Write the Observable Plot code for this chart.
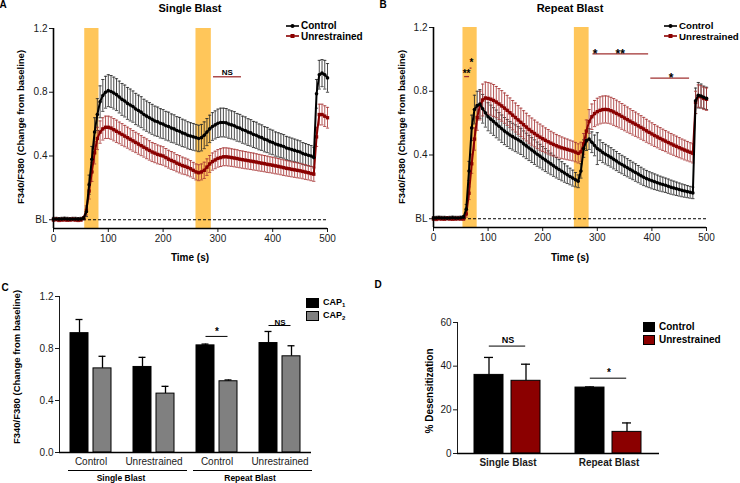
<!DOCTYPE html>
<html><head><meta charset="utf-8">
<script src="https://cdn.jsdelivr.net/npm/d3@7"></script>
<script src="https://cdn.jsdelivr.net/npm/@observablehq/plot@0.6"></script>
<style>
html,body{margin:0;padding:0;background:#fff;}
#fig{position:relative;width:740px;height:483px;overflow:hidden;font-family:"Liberation Sans",Arial,sans-serif;color:#000;background:#fff;}
#fig > svg{position:absolute;}
.t{position:absolute;white-space:nowrap;line-height:1;}
#panelD [aria-label^="fx-axis"] text{font-weight:bold;}
</style></head><body><div id="fig"></div>
<script>
// ---------------- DATA ----------------
const time = [0,5,10,15,20,25,30,35,40,45,50,55,60,65,70,75,80,85,90,95,100,105,110,115,120,125,130,135,140,145,150,155,160,165,170,175,180,185,190,195,200,205,210,215,220,225,230,235,240,245,250,255,260,265,270,275,280,285,290,295,300,305,310,315,320,325,330,335,340,345,350,355,360,365,370,375,380,385,390,395,400,405,410,415,420,425,430,435,440,445,450,455,460,465,470,475,480,485,490,495,500];

// Panel A (Single Blast)
const singleControl = [0.005,0.005,0.004,0.005,0.006,0.005,0.004,0.005,0.005,0.004,0.005,
 0.01,0.05,0.22,0.38,0.55,0.66,0.74,0.78,0.80,0.81,
 0.805,0.795,0.785,0.77,0.755,0.745,0.73,0.72,0.71,0.695,0.685,0.675,
 0.66,0.65,0.64,0.63,0.62,0.615,0.605,0.60,0.59,0.585,0.575,0.57,0.56,0.555,0.545,0.54,0.53,0.525,0.52,0.515,
 0.51,
 0.515,0.53,0.55,0.57,0.585,0.595,0.605,0.61,0.61,
 0.608,0.60,0.595,0.59,0.58,0.575,0.565,0.56,0.55,0.545,0.535,0.53,0.52,0.515,0.505,0.50,0.49,0.485,0.475,0.47,0.465,0.46,0.45,0.445,0.44,0.435,0.43,0.425,0.415,0.41,0.405,0.40,0.39,
 0.79,0.91,0.92,0.91,0.89];
const singleControlSem = [0.01,0.01,0.01,0.01,0.01,0.01,0.01,0.01,0.01,0.01,0.01,
 0.01,0.03,0.06,0.08,0.09,0.1,0.1,0.1,0.1,0.1,
 0.1,0.1,0.1,0.1,0.1,0.1,0.1,0.1,0.098,0.098,0.097,0.097,
 0.096,0.095,0.095,0.094,0.093,0.092,0.092,0.091,0.09,0.09,0.089,0.088,0.087,0.087,0.086,0.085,0.085,0.084,0.084,0.083,
 0.083,
 0.083,0.084,0.085,0.086,0.087,0.088,0.089,0.09,0.09,
 0.09,0.089,0.088,0.088,0.087,0.086,0.085,0.085,0.084,0.083,0.082,0.082,0.081,0.08,0.079,0.079,0.078,0.077,0.076,0.076,0.075,0.074,0.073,0.073,0.072,0.071,0.07,0.07,0.069,0.068,0.067,0.066,0.065,
 0.09,0.09,0.085,0.09,0.09];
const singleUnrestrained = [0.0,0.002,-0.002,0.0,0.001,-0.001,0.0,0.002,0.0,-0.002,0.0,
 0.01,0.06,0.18,0.30,0.42,0.51,0.55,0.57,0.58,0.58,
 0.575,0.565,0.555,0.545,0.535,0.525,0.515,0.505,0.495,0.485,0.475,0.465,
 0.455,0.445,0.435,0.425,0.418,0.41,0.405,0.40,0.39,0.38,0.372,0.365,0.355,0.348,0.34,0.335,0.328,0.32,0.31,0.30,
 0.295,
 0.30,0.31,0.33,0.35,0.365,0.375,0.385,0.39,0.395,
 0.395,0.393,0.39,0.387,0.384,0.38,0.377,0.374,0.371,0.368,0.365,0.362,0.358,0.355,0.352,0.348,0.345,0.342,0.338,0.335,0.331,0.327,0.323,0.32,0.316,0.313,0.31,0.307,0.303,0.299,0.295,0.29,0.286,
 0.52,0.66,0.66,0.65,0.64];
const singleUnrestrainedSem = [0.01,0.01,0.01,0.01,0.01,0.01,0.01,0.01,0.01,0.01,0.01,
 0.01,0.03,0.05,0.06,0.07,0.07,0.07,0.07,0.07,0.07,
 0.07,0.07,0.07,0.068,0.068,0.067,0.066,0.066,0.065,0.064,0.064,0.063,
 0.062,0.062,0.061,0.06,0.06,0.059,0.058,0.058,0.057,0.056,0.056,0.055,0.054,0.054,0.053,0.052,0.052,0.051,0.05,0.05,
 0.05,
 0.05,0.051,0.052,0.053,0.054,0.055,0.055,0.056,0.056,
 0.056,0.056,0.055,0.055,0.055,0.054,0.054,0.054,0.053,0.053,0.053,0.052,0.052,0.051,0.051,0.051,0.05,0.05,0.05,0.049,0.049,0.049,0.048,0.048,0.047,0.047,0.047,0.046,0.046,0.046,0.045,0.045,0.045,
 0.06,0.065,0.065,0.065,0.065];

// Panel B (Repeat Blast)
const repeatControl = [0.004,0.005,0.006,0.005,0.005,0.004,0.005,0.006,0.005,0.005,0.006,
 0.01,0.06,0.30,0.57,0.685,0.71,0.72,0.69,0.665,0.64,
 0.625,0.61,0.595,0.58,0.565,0.55,0.538,0.525,0.515,0.505,0.495,0.485,
 0.47,0.457,0.444,0.431,0.418,0.405,0.393,0.38,0.368,0.356,0.344,0.332,0.32,0.309,0.298,0.287,0.276,0.265,0.255,0.245,
 0.235,
 0.30,0.44,0.49,0.50,0.48,0.46,0.44,0.43,0.415,
 0.405,0.395,0.385,0.373,0.362,0.35,0.34,0.33,0.32,0.31,0.30,0.29,0.28,0.27,0.26,0.252,0.245,0.238,0.232,0.226,0.22,0.215,0.21,0.204,0.198,0.193,0.188,0.183,0.178,0.174,0.17,0.166,0.162,
 0.74,0.775,0.77,0.762,0.755];
const repeatControlSem = [0.01,0.01,0.01,0.01,0.01,0.01,0.01,0.01,0.01,0.01,0.01,
 0.01,0.03,0.06,0.08,0.09,0.09,0.09,0.09,0.09,0.088,
 0.088,0.087,0.087,0.086,0.086,0.085,0.085,0.085,0.084,0.084,0.083,0.082,
 0.081,0.08,0.079,0.078,0.077,0.076,0.074,0.073,0.072,0.07,0.068,0.066,0.064,0.062,0.06,0.058,0.055,0.052,0.05,0.045,
 0.04,
 0.045,0.055,0.062,0.065,0.065,0.065,0.1,0.064,0.063,
 0.062,0.062,0.061,0.06,0.06,0.059,0.058,0.058,0.057,0.056,0.055,0.055,0.054,0.053,0.052,0.051,0.05,0.05,0.049,0.048,0.047,0.046,0.045,0.045,0.044,0.043,0.042,0.041,0.04,0.039,0.038,0.037,0.036,
 0.08,0.08,0.075,0.07,0.07];
const repeatUnrestrained = [0.0,-0.002,0.001,0.0,-0.001,0.002,0.0,-0.001,0.0,0.001,0.0,
 0.0,0.03,0.16,0.345,0.50,0.635,0.71,0.745,0.758,0.755,
 0.75,0.742,0.732,0.72,0.708,0.694,0.68,0.665,0.65,0.635,0.62,0.605,
 0.59,0.575,0.56,0.547,0.535,0.523,0.512,0.502,0.492,0.483,0.474,0.466,0.458,0.451,0.445,0.44,0.435,0.43,0.425,0.418,
 0.41,
 0.42,0.47,0.55,0.61,0.64,0.66,0.672,0.68,0.685,
 0.686,0.684,0.678,0.67,0.661,0.652,0.642,0.632,0.622,0.612,0.602,0.593,0.583,0.573,0.563,0.552,0.542,0.532,0.522,0.513,0.504,0.495,0.487,0.478,0.47,0.462,0.454,0.446,0.438,0.431,0.424,0.417,0.41,
 0.73,0.77,0.765,0.755,0.75];
const repeatUnrestrainedSem = [0.01,0.01,0.01,0.01,0.01,0.01,0.01,0.01,0.01,0.01,0.01,
 0.01,0.02,0.04,0.06,0.07,0.08,0.09,0.1,0.1,0.1,
 0.1,0.1,0.098,0.097,0.096,0.095,0.094,0.093,0.092,0.091,0.09,0.089,
 0.088,0.087,0.086,0.085,0.084,0.083,0.082,0.08,0.078,0.077,0.075,0.073,0.071,0.07,0.068,0.066,0.065,0.063,0.062,0.061,
 0.06,
 0.06,0.065,0.07,0.075,0.08,0.082,0.084,0.085,0.085,
 0.085,0.085,0.084,0.084,0.083,0.082,0.081,0.08,0.079,0.078,0.077,0.076,0.075,0.074,0.073,0.072,0.071,0.07,0.069,0.068,0.068,0.067,0.066,0.066,0.065,0.064,0.064,0.063,0.062,0.062,0.061,0.06,0.06,
 0.07,0.07,0.07,0.07,0.07];

// stimulus (CAP) windows, seconds
const bandsSingle = [{start: 57, end: 83}, {start: 260, end: 288}];
const bandsRepeat = [{start: 54, end: 80}, {start: 258, end: 285}];

// significance annotations for time courses
const sigLinesSingle = [{x1: 292, x2: 343, y: 0.897}];
const sigTextSingle = [{x: 317, y: 0.925, label: "NS"}];
const sigLinesRepeat = [{x1: 57, x2: 66, y: 0.892}, {x1: 67, x2: 70.5, y: 0.945}, {x1: 292, x2: 394, y: 1.035}, {x1: 398, x2: 469, y: 0.882}];
const sigStarsSmall = [{x: 60.5, y: 0.925, label: "**"}, {x: 69.5, y: 0.99, label: "*"}];
const sigStarsRepeat = [{x: 296, y: 1.05, label: "*"}, {x: 342, y: 1.05, label: "**"}, {x: 435, y: 0.903, label: "*"}];

// tick labels
const xTicks = [0, 100, 200, 300, 400, 500];
const xTickLabels = ["0", "100", "200", "300", "400", "500"];
const yTicks = [0, 0.4, 0.8, 1.2];
const yTickLabels = ["BL", "0.4", "0.8", "1.2"];

// Panel C
const cGroups = ["Single|Control", "Single|Unrestrained", "Repeat|Control", "Repeat|Unrestrained"];
const cGroupLabels = ["Control", "Unrestrained", "Control", "Unrestrained"];
const caps = ["CAP1", "CAP2"];
const cap1Mean = [0.918, 0.658, 0.824, 0.842];
const cap1Err  = [0.105, 0.074, 0.010, 0.089];
const cap2Mean = [0.647, 0.453, 0.548, 0.740];
const cap2Err  = [0.093, 0.056, 0.010, 0.081];
const cYTicks = [0, 0.4, 0.8, 1.2];
const cYTickLabels = ["0.0", "0.4", "0.8", "1.2"];
const sigC = [{g: "Repeat|Control", y: 0.893, ty: 0.925, label: "*"}, {g: "Repeat|Unrestrained", y: 0.977, ty: 1.003, label: "NS"}];

// Panel D
const dGroups = ["Single Blast", "Repeat Blast"];
const conditions = ["Control", "Unrestrained"];
const controlDesens = [36.0, 30.2];
const controlDesensErr = [8.0, 0.3];
const unrestrainedDesens = [33.3, 9.9];
const unrestrainedDesensErr = [7.6, 4.1];
const dYTicks = [0, 20, 40, 60];
const sigD = [{g: "Single Blast", y: 49.2, ty: 51.9, label: "NS"}, {g: "Repeat Blast", y: 34.5, ty: 36.9, label: "*"}];

// ---------------- DRAW ----------------
const FONT = '"Liberation Sans", Arial, sans-serif';
const RED = "#8b0000";
const ORANGE = "#ffc65a";
const fig = document.getElementById("fig");
const capMark = {draw(ctx) { ctx.moveTo(-1.6, 0); ctx.lineTo(1.6, 0); }};
const yDom = [-0.055, 1.2];

function place(svg, left, top, id) {
  svg.style.left = left + "px"; svg.style.top = top + "px";
  if (id) svg.id = id;
  fig.appendChild(svg);
}
function txt(s, x, y, o = {}) {
  const d = document.createElement("div");
  d.className = "t";
  d.innerHTML = s;
  d.style.left = x + "px"; d.style.top = y + "px";
  d.style.fontSize = (o.size || 10) + "px";
  d.style.fontWeight = o.weight || "normal";
  const ax = o.anchor === "start" ? "0" : "-50%";
  d.style.transform = `translate(${ax},-50%)` + (o.rotate ? ` rotate(${o.rotate}deg)` : "");
  fig.appendChild(d);
}
function series(vals, sems) {
  return time.map((t, i) => ({t, v: vals[i], lo: vals[i] - sems[i], hi: vals[i] + sems[i]}));
}

function timePanel(ctlV, ctlS, unrV, unrS, bands, sigLines, nsText, stars, smallStars, m) {
  const ctl = series(ctlV, ctlS), unr = series(unrV, unrS);
  const errC = "#2a2a2a", errU = "#a83838", ew = 0.85;
  return Plot.plot({
    width: 370, height: 250,
    marginLeft: m.l, marginRight: m.r, marginTop: m.t, marginBottom: m.b,
    style: {fontFamily: FONT, fontSize: "10px", color: "#1a1a1a", background: "transparent", overflow: "visible"},
    x: {domain: [0, 500], ticks: xTicks, tickFormat: d => xTickLabels[xTicks.indexOf(d)], tickSize: 4, tickPadding: 2, label: null},
    y: {domain: yDom, ticks: yTicks, tickFormat: d => yTickLabels[yTicks.indexOf(d)], tickSize: 4, tickPadding: 2, label: null},
    marks: [
      Plot.rect(bands, {x1: "start", x2: "end", y1: yDom[0], y2: yDom[1], fill: ORANGE}),
      Plot.ruleY([0], {stroke: "#000", strokeDasharray: "3,2", strokeWidth: 1}),
      Plot.ruleX(ctl, {x: "t", y1: "lo", y2: "hi", stroke: errC, strokeWidth: ew}),
      Plot.dot(ctl, {x: "t", y: "hi", symbol: capMark, stroke: errC, strokeWidth: ew, fill: "none"}),
      Plot.dot(ctl, {x: "t", y: "lo", symbol: capMark, stroke: errC, strokeWidth: ew, fill: "none"}),
      Plot.ruleX(unr, {x: "t", y1: "lo", y2: "hi", stroke: errU, strokeWidth: ew}),
      Plot.dot(unr, {x: "t", y: "hi", symbol: capMark, stroke: errU, strokeWidth: ew, fill: "none"}),
      Plot.dot(unr, {x: "t", y: "lo", symbol: capMark, stroke: errU, strokeWidth: ew, fill: "none"}),
      Plot.line(unr, {x: "t", y: "v", stroke: RED, strokeWidth: 2}),
      Plot.dot(unr, {x: "t", y: "v", symbol: "square", r: 1.9, fill: RED}),
      Plot.line(ctl, {x: "t", y: "v", stroke: "#000", strokeWidth: 2}),
      Plot.dot(ctl, {x: "t", y: "v", r: 1.8, fill: "#000"}),
      Plot.ruleY(sigLines, {y: "y", x1: "x1", x2: "x2", stroke: "#a03030", strokeWidth: 1.3}),
      Plot.text(nsText, {x: "x", y: "y", text: "label", fontWeight: "bold", fontSize: 8, fill: "#000"}),
      Plot.text(stars, {x: "x", y: "y", text: "label", fontWeight: "bold", fontSize: 12, fill: "#000", dy: 3}),
      Plot.text(smallStars, {x: "x", y: "y", text: "label", fontWeight: "bold", fontSize: 10, fill: "#000", dy: 2}),
      Plot.ruleX([0], {stroke: "#000", strokeWidth: 1.6}),
      Plot.ruleY([yDom[0]], {stroke: "#000", strokeWidth: 1.6})
    ]
  });
}

// Panel A
place(timePanel(singleControl, singleControlSem, singleUnrestrained, singleUnrestrainedSem,
  bandsSingle, sigLinesSingle, sigTextSingle, [], [], {l: 53, r: 43, t: 28, b: 22}), 0, 0);
// Panel B
place(timePanel(repeatControl, repeatControlSem, repeatUnrestrained, repeatUnrestrainedSem,
  bandsRepeat, sigLinesRepeat, [], sigStarsRepeat, sigStarsSmall, {l: 63, r: 34, t: 27, b: 23}), 370, 0);

// Panel C
const cData = [];
cGroups.forEach((g, i) => {
  cData.push({g, cap: caps[0], v: cap1Mean[i], e: cap1Err[i]});
  cData.push({g, cap: caps[1], v: cap2Mean[i], e: cap2Err[i]});
});
place(Plot.plot({
  width: 370, height: 213, marginLeft: 58, marginRight: 58, marginTop: 26, marginBottom: 31,
  style: {fontFamily: FONT, fontSize: "10px", color: "#1a1a1a", background: "transparent", overflow: "visible"},
  fx: {domain: cGroups, padding: 0, tickFormat: g => cGroupLabels[cGroups.indexOf(g)], tickSize: 0, tickPadding: 5, label: null, axis: "bottom"},
  x: {domain: caps, paddingInner: 0.21, paddingOuter: 0.43, axis: null},
  y: {domain: [0, 1.2], ticks: cYTicks, tickFormat: d => cYTickLabels[cYTicks.indexOf(d)], tickSize: 4, tickPadding: 2, label: null, line: true},
  color: {domain: caps, range: ["#000000", "#808080"]},
  marks: [
    Plot.ruleX(cData, {fx: "g", x: "cap", y1: "v", y2: d => d.v + d.e, stroke: "#000", strokeWidth: 1.3}),
    Plot.tickY(cData, {fx: "g", x: "cap", y: d => d.v + d.e, stroke: "#000", strokeWidth: 1.3, insetLeft: 5.5, insetRight: 5.5}),
    Plot.barY(cData, {fx: "g", x: "cap", y: "v", fill: "cap", stroke: "#000", strokeWidth: 1}),
    Plot.ruleY([0], {stroke: "#000", strokeWidth: 1.6}),
    Plot.ruleY(sigC, {fx: "g", y: "y", x1: () => caps[0], x2: () => caps[1], insetLeft: 9.5, insetRight: 9.5, stroke: "#000", strokeWidth: 1}),
    Plot.text(sigC, {fx: "g", y: "ty", text: "label", fontWeight: "bold", fontSize: d => d.label === "*" ? 10 : 8, fill: "#000"})
  ]
}), 0, 270, "panelC");

// Panel D
const dData = [];
dGroups.forEach((g, i) => {
  dData.push({g, cond: conditions[0], v: controlDesens[i], e: controlDesensErr[i]});
  dData.push({g, cond: conditions[1], v: unrestrainedDesens[i], e: unrestrainedDesensErr[i]});
});
place(Plot.plot({
  width: 370, height: 213, marginLeft: 86, marginRight: 81, marginTop: 52, marginBottom: 30,
  style: {fontFamily: FONT, fontSize: "10px", color: "#1a1a1a", background: "transparent", overflow: "visible"},
  fx: {domain: dGroups, padding: 0, tickSize: 0, tickPadding: 5, label: null, axis: "bottom"},
  x: {domain: conditions, paddingInner: 0.21, paddingOuter: 0.46, axis: null},
  y: {domain: [0, 60], ticks: dYTicks, tickSize: 4, tickPadding: 2, label: null, line: true},
  color: {domain: conditions, range: ["#000000", RED]},
  marks: [
    Plot.ruleX(dData, {fx: "g", x: "cond", y1: "v", y2: d => d.v + d.e, stroke: "#000", strokeWidth: 1.3}),
    Plot.tickY(dData, {fx: "g", x: "cond", y: d => d.v + d.e, stroke: "#000", strokeWidth: 1.3, insetLeft: 10, insetRight: 10}),
    Plot.barY(dData, {fx: "g", x: "cond", y: "v", fill: "cond", stroke: "#000", strokeWidth: 1}),
    Plot.ruleY([0], {stroke: "#000", strokeWidth: 1.6}),
    Plot.ruleY(sigD, {fx: "g", y: "y", x1: () => conditions[0], x2: () => conditions[1], insetLeft: 14.8, insetRight: 14.8, stroke: "#000", strokeWidth: 1}),
    Plot.text(sigD, {fx: "g", y: "ty", text: "label", fontWeight: "bold", fontSize: d => d.label === "*" ? 10 : 9, fill: "#000"})
  ]
}), 370, 270, "panelD");

// ---------------- TEXT / LEGENDS ----------------
txt("A", 3, 5, {weight: "bold", size: 10});
txt("B", 383, 5, {weight: "bold", size: 10});
txt("C", 5, 288, {weight: "bold", size: 10});
txt("D", 378, 285, {weight: "bold", size: 10});
txt("Single Blast", 190, 8, {weight: "bold", size: 11});
txt("Repeat Blast", 570, 8, {weight: "bold", size: 11});
txt("Time (s)", 190, 258, {weight: "bold", size: 10});
txt("Time (s)", 570, 258, {weight: "bold", size: 10});
txt("F340/F380 (Change from baseline)", 21, 127, {weight: "bold", size: 9.5, rotate: -90});
txt("F340/F380 (Change from baseline)", 402, 127, {weight: "bold", size: 9.5, rotate: -90});
txt("F340/F380 (Change from baseline)", 17, 367, {weight: "bold", size: 9.5, rotate: -90});
txt("% Desensitization", 430, 391, {weight: "bold", size: 10, rotate: -90});

function lineLegend(x, y, color, square) {
  const s = d3.create("svg").attr("width", 14).attr("height", 8)
    .style("position", "absolute").style("left", x + "px").style("top", (y - 4) + "px");
  s.append("line").attr("x1", 0).attr("x2", 13).attr("y1", 4).attr("y2", 4).attr("stroke", color).attr("stroke-width", 1.6);
  if (square) s.append("rect").attr("x", 4.5).attr("y", 2).attr("width", 4).attr("height", 4).attr("fill", color);
  else s.append("circle").attr("cx", 6.5).attr("cy", 4).attr("r", 2).attr("fill", color);
  fig.appendChild(s.node());
}
function boxLegend(x, y, w, h, color) {
  const d = document.createElement("div");
  d.style.cssText = `position:absolute;left:${x}px;top:${y}px;width:${w}px;height:${h}px;background:${color};border:1px solid #000;box-sizing:border-box;`;
  fig.appendChild(d);
}
lineLegend(286, 25.5, "#000", false); txt("Control", 301, 26, {weight: "bold", anchor: "start"});
lineLegend(286, 36, RED, true); txt("Unrestrained", 301, 36.5, {weight: "bold", anchor: "start"});
lineLegend(664, 25.5, "#000", false); txt("Control", 679, 26, {weight: "bold", anchor: "start", size: 9.7});
lineLegend(664, 36, RED, true); txt("Unrestrained", 679, 36.5, {weight: "bold", anchor: "start", size: 9.7});

boxLegend(306, 298, 13, 10, "#000");
boxLegend(306, 311, 13, 10, "#808080");
txt("CAP<sub style='font-size:6px'>1</sub>", 323, 303, {weight: "bold", size: 9, anchor: "start"});
txt("CAP<sub style='font-size:6px'>2</sub>", 323, 316, {weight: "bold", size: 9, anchor: "start"});

boxLegend(643, 322, 12, 10, "#000");
boxLegend(643, 335, 12, 10, RED);
txt("Control", 659, 327, {weight: "bold", size: 10, anchor: "start"});
txt("Unrestrained", 659, 340, {weight: "bold", size: 10, anchor: "start"});

// group brackets under panel C
function hline(x1, x2, y) {
  const d = document.createElement("div");
  d.style.cssText = `position:absolute;left:${x1}px;top:${y}px;width:${x2 - x1}px;height:1px;background:#000;`;
  fig.appendChild(d);
}
hline(68, 187, 470);
hline(193, 312, 470);
txt("Single Blast", 121, 478, {weight: "bold", size: 8.5});
txt("Repeat Blast", 250, 478, {weight: "bold", size: 8.5});
</script></body></html>
